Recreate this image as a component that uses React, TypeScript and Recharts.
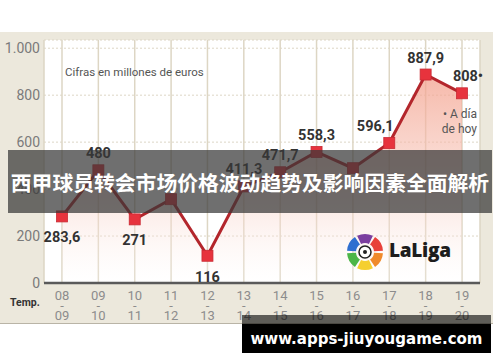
import React from 'react';
import {
  ComposedChart,
  Area,
  XAxis,
  YAxis,
  CartesianGrid,
  LabelList,
} from 'recharts';

// temporadas de la Liga
const seasons = ['08-09', '09-10', '10-11', '11-12', '12-13', '13-14', '14-15', '15-16', '16-17', '17-18', '18-19', '19-20'];
// gasto en fichajes, millones de euros
const spending = [283.6, 480, 271, 357, 116, 411.3, 471.7, 558.3, 489, 596.1, 887.9, 808];
// etiquetas visibles (null = tapada por el rótulo)
const valueLabels = ['283,6', '480', '271', null, '116', '411,3', '471,7', '558,3', null, '596,1', '887,9', '808•'];
const yTicks = [0, 200, 400, 600, 800, 1000];

const data = seasons.map((s, i) => ({ season: s, value: spending[i], label: valueLabels[i] }));

const RED_LINE = '#b3262c';
const RED_DOT = '#e7333d';
const FONT = 'Roboto, "Noto Sans", sans-serif';

const SeasonTick = ({ x, y, payload }: any) => {
  const [a, b] = String(payload.value).split('-');
  const common = { x, textAnchor: 'middle' as const, fill: '#8c8c8c', fontSize: 13, fontFamily: FONT };
  return (
    <g>
      <text {...common} y={y + 9}>{a}</text>
      <text {...common} y={y + 19}>-</text>
      <text {...common} y={y + 29}>{b}</text>
    </g>
  );
};

const SquareDot = ({ cx, cy }: any) => {
  if (cx == null || cy == null) return null;
  return <rect x={cx - 5.5} y={cy - 5.5} width={11} height={11} fill={RED_DOT} stroke="#c92a33" strokeWidth={0.8} />;
};

const ValueLabel = ({ x, y, value, index }: any) => {
  if (!value) return null;
  const v = spending[index];
  const prev = index > 0 ? spending[index - 1] : Infinity;
  const next = index < spending.length - 1 ? spending[index + 1] : -Infinity;
  const below = v < prev && v < next;
  let dx = 0;
  if (index === 9) dx = -14;
  if (index === spending.length - 1) dx = 6;
  return (
    <text
      x={x + dx}
      y={below ? y + 26 : y - 12}
      textAnchor="middle"
      fill="#333"
      fontSize={14.5}
      fontWeight={700}
      fontFamily={FONT}
    >
      {value}
    </text>
  );
};

const LaLigaLogo = () => {
  const colors = ['#e8413a', '#f08a2b', '#f5cf2f', '#4cb648', '#2f6fd0', '#7b3fa0'];
  const cx = 20;
  const cy = 20;
  const segs = colors.map((c, i) => {
    const a0 = ((-60 + i * 60 + 4) * Math.PI) / 180;
    const a1 = ((-60 + (i + 1) * 60 - 4) * Math.PI) / 180;
    const R = 18;
    const r = 9;
    const p = (rad: number, a: number) => `${cx + rad * Math.cos(a)},${cy + rad * Math.sin(a)}`;
    return (
      <path
        key={c}
        d={`M${p(R, a0)} A${R},${R} 0 0 1 ${p(R, a1)} L${p(r, a1)} A${r},${r} 0 0 0 ${p(r, a0)} Z`}
        fill={c}
      />
    );
  });
  return (
    <svg width={40} height={40} style={{ position: 'absolute', left: 345, top: 232 }}>
      {segs}
      <circle cx={cx} cy={cy} r={6} fill="#fff" stroke="#222" strokeWidth={1.5} />
      <circle cx={cx} cy={cy} r={2} fill="#222" />
    </svg>
  );
};

export default function App() {
  return (
    <div style={{ position: 'absolute', left: 0, top: 0, width: 500, height: 362, background: '#fff', overflow: 'hidden' }}>
      <div
        style={{
          position: 'absolute',
          left: 0,
          top: 32,
          width: 493,
          height: 291,
          background: '#ece8dc',
          borderBottom: '1.5px solid #b9b4a6',
        }}
      />
      <div style={{ position: 'absolute', left: 0, top: 0 }}>
        <ComposedChart width={500} height={362} data={data} margin={{ top: 40, right: 20, bottom: 39, left: 4 }}>
          <defs>
            <linearGradient id="areaFill" x1="0" y1="0" x2="0" y2="1">
              <stop offset="0%" stopColor="#f3a08c" stopOpacity={0.75} />
              <stop offset="55%" stopColor="#f7c8bc" stopOpacity={0.5} />
              <stop offset="100%" stopColor="#ffffff" stopOpacity={0.2} />
            </linearGradient>
          </defs>
          <CartesianGrid fill="#ffffff" stroke="#ddd6c6" vertical={false} strokeDasharray="2 2" />
          <CartesianGrid stroke="#ddd6c4" strokeWidth={1.5} horizontal={false} />
          <XAxis
            dataKey="season"
            height={40}
            padding={{ left: 18, right: 18 }}
            tick={<SeasonTick />}
            tickLine={false}
            axisLine={{ stroke: '#5a5a5a', strokeWidth: 2.5 }}
            interval={0}
          />
          <YAxis
            width={40}
            domain={[0, 1035]}
            ticks={yTicks}
            tickLine={false}
            tickSize={0}
            axisLine={false}
            tickMargin={4}
            tick={{ fill: '#7a7a7a', fontSize: 14, fontFamily: FONT }}
            tickFormatter={(v: number) => (v === 1000 ? '1.000' : String(v))}
          />
          <Area
            type="linear"
            dataKey="value"
            stroke={RED_LINE}
            strokeWidth={3}
            fill="url(#areaFill)"
            fillOpacity={1}
            dot={<SquareDot />}
            activeDot={false}
            isAnimationActive={false}
          >
            <LabelList dataKey="label" content={<ValueLabel />} />
          </Area>
        </ComposedChart>
      </div>

      <div style={{ position: 'absolute', left: 65, top: 65, fontFamily: FONT, fontSize: 11.5, color: '#555' }}>
        Cifras en millones de euros
      </div>
      <div
        style={{
          position: 'absolute',
          right: 23,
          top: 107,
          fontFamily: FONT,
          fontSize: 12,
          lineHeight: '15px',
          color: '#555',
          textAlign: 'right',
        }}
      >
        • A día
        <br />
        de hoy
      </div>
      <div style={{ position: 'absolute', left: 10, top: 296, fontFamily: FONT, fontSize: 10.5, fontWeight: 700, color: '#333' }}>
        Temp.
      </div>

      <LaLigaLogo />
      <div
        style={{
          position: 'absolute',
          left: 389,
          top: 237,
          fontFamily: '"Open Sans", Lato, sans-serif',
          fontSize: 19,
          fontWeight: 800,
          color: '#1d1d1d',
          letterSpacing: -0.3,
        }}
      >
        LaLiga
      </div>

      <div
        style={{
          position: 'absolute',
          left: 8,
          top: 150,
          width: 484,
          height: 63,
          background: 'rgba(55,55,55,0.72)',
          display: 'flex',
          alignItems: 'center',
          justifyContent: 'center',
          color: '#fff',
          fontFamily: '"Noto Sans CJK SC", sans-serif',
          fontWeight: 700,
          fontSize: 20.8,
          whiteSpace: 'nowrap',
        }}
      >
        西甲球员转会市场价格波动趋势及影响因素全面解析
      </div>

      <div style={{ position: 'absolute', left: 242, top: 315, width: 249, height: 9, background: 'rgba(0,0,0,0.6)' }} />
      <div
        style={{
          position: 'absolute',
          left: 242,
          top: 324,
          width: 249,
          height: 29,
          background: '#000',
          display: 'flex',
          alignItems: 'center',
          justifyContent: 'center',
          color: '#fff',
          fontFamily: '"DejaVu Sans", sans-serif',
          fontWeight: 700,
          fontSize: 15,
          whiteSpace: 'nowrap',
        }}
      >
        www.apps-jiuyougame.com
      </div>
    </div>
  );
}
